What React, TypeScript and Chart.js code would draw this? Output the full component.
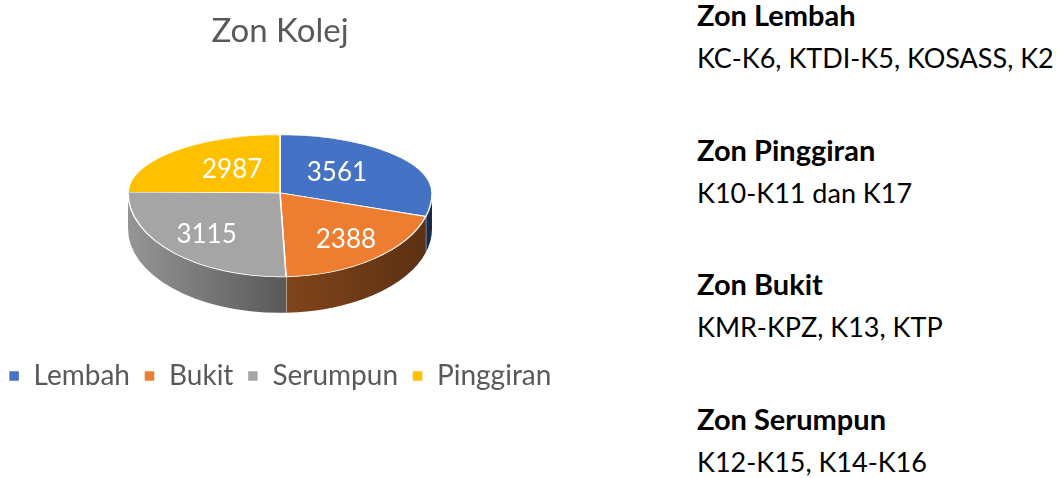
import React, { useEffect, useRef } from 'react';
import { Chart, registerables } from 'chart.js';

Chart.register(...registerables);

// ---- data ----
const chartTitle = 'Zon Kolej';
const zones = ['Lembah', 'Bukit', 'Serumpun', 'Pinggiran'];
const students = [3561, 2388, 3115, 2987];
const zoneColors = ['#4472C4', '#ED7D31', '#A5A5A5', '#FFC000'];
const noteHeadings = ['Zon Lembah', 'Zon Pinggiran', 'Zon Bukit', 'Zon Serumpun'];
const noteBodies = ['KC-K6, KTDI-K5, KOSASS, K2', 'K10-K11 dan K17', 'KMR-KPZ, K13, KTP', 'K12-K15, K14-K16'];

const FONT = 'Lato, "Open Sans", sans-serif';
// perspective: back half of the disc is flatter than the front half
const TILT_BACK = 58 / 152;
const TILT_FRONT = 84 / 152;
const DEPTH = 36;
const LABEL_POS = 0.57;
const PERSP = 0.3;

function shade(hex: string, f: number) {
  const n = parseInt(hex.slice(1), 16);
  const r = Math.round(((n >> 16) & 255) * f);
  const g = Math.round(((n >> 8) & 255) * f);
  const b = Math.round((n & 255) * f);
  return `rgb(${r},${g},${b})`;
}

function faceCenter(arc: any) {
  const R = arc.outerRadius;
  return arc.y + (R * TILT_BACK - R * TILT_FRONT) / 2;
}

const pie3d = {
  id: 'pie3d',
  beforeDatasetsDraw(chart: any) {
    const arcs = chart.getDatasetMeta(0).data;
    if (!arcs.length) return;
    const ctx = chart.ctx;
    const { x: cx, y: cy, outerRadius: R } = arcs[0];
    const cyS = faceCenter(arcs[0]);
    const rF = R * TILT_FRONT;
    // side walls (front half only)
    arcs.forEach((arc: any, i: number) => {
      const a = Math.max(arc.startAngle, 0);
      const b = Math.min(arc.endAngle, Math.PI);
      if (b <= a) return;
      const base = zoneColors[i];
      const grad = ctx.createLinearGradient(cx - R, 0, cx + R, 0);
      grad.addColorStop(0, shade(base, 0.9));
      grad.addColorStop(0.5, shade(base, 0.55));
      grad.addColorStop(1, shade(base, 0.38));
      ctx.beginPath();
      ctx.ellipse(cx, cyS, R, rF, 0, a, b);
      ctx.ellipse(cx, cyS + DEPTH, R, rF, 0, b, a, true);
      ctx.closePath();
      ctx.fillStyle = grad;
      ctx.fill();
      if (b < Math.PI) {
        const ex = cx + Math.cos(b) * R;
        const ey = cyS + Math.sin(b) * rF;
        ctx.strokeStyle = 'rgba(255,255,255,0.8)';
        ctx.lineWidth = 1;
        ctx.beginPath();
        ctx.moveTo(ex, ey);
        ctx.lineTo(ex, ey + DEPTH);
        ctx.stroke();
      }
    });
    // back half of the top face (drawn by Chart.js in this transform)
    ctx.save();
    ctx.beginPath();
    ctx.rect(0, 0, chart.width, cyS + 0.5);
    ctx.clip();
    ctx.translate(0, cyS);
    ctx.scale(1, TILT_BACK);
    ctx.translate(0, -cy);
  },
  afterDatasetsDraw(chart: any) {
    const ctx = chart.ctx;
    ctx.restore();
    const meta = chart.getDatasetMeta(0);
    const arcs = meta.data;
    if (!arcs.length) return;
    const { y: cy } = arcs[0];
    const cyS = faceCenter(arcs[0]);
    // front half of the top face
    ctx.save();
    ctx.beginPath();
    ctx.rect(0, cyS - 0.5, chart.width, chart.height);
    ctx.clip();
    ctx.translate(0, cyS);
    ctx.scale(1, TILT_FRONT);
    ctx.translate(0, -cy);
    meta.controller.draw();
    ctx.restore();
    // value labels
    const values = chart.data.datasets[0].data;
    ctx.save();
    ctx.fillStyle = '#ffffff';
    ctx.font = `26px ${FONT}`;
    ctx.textAlign = 'center';
    ctx.textBaseline = 'middle';
    arcs.forEach((arc: any, i: number) => {
      const mid = (arc.startAngle + arc.endAngle) / 2;
      const R = arc.outerRadius;
      const s = Math.sin(mid);
      const fx = LABEL_POS * (1 + PERSP * s);
      const fy = LABEL_POS * (1 + PERSP * Math.max(s, 0));
      const x = arc.x + Math.cos(mid) * R * fx;
      const y = cyS + s * R * (s < 0 ? TILT_BACK : TILT_FRONT) * fy;
      ctx.fillText(String(values[i]), x, y);
    });
    ctx.restore();
  },
};

function PieChart() {
  const ref = useRef<HTMLCanvasElement>(null);
  useEffect(() => {
    if (!ref.current) return;
    const chart = new Chart(ref.current, {
      type: 'pie',
      data: {
        labels: zones,
        datasets: [
          {
            data: students,
            backgroundColor: zoneColors,
            borderColor: '#ffffff',
            borderWidth: 1.5,
            radius: 152,
            clip: false,
          } as any,
        ],
      },
      options: {
        animation: false,
        responsive: false,
        layout: { padding: { top: 0, bottom: 78, left: 0, right: 0 } },
        plugins: {
          title: {
            display: true,
            text: chartTitle,
            color: '#595959',
            font: { family: FONT, size: 33, weight: 'normal' },
            padding: { top: 12, bottom: 12 },
          },
          legend: {
            position: 'bottom',
            labels: {
              color: '#595959',
              font: { family: FONT, size: 28 },
              boxWidth: 11,
              boxHeight: 11,
              padding: 14,
            },
          },
          tooltip: { enabled: false },
        },
      },
      plugins: [pie3d],
    });
    return () => chart.destroy();
  }, []);
  return <canvas ref={ref} width={620} height={478} style={{ position: 'absolute', left: -30, top: 0 }} />;
}

export default function App() {
  return (
    <div style={{ position: 'absolute', left: 0, top: 0, width: 1057, height: 478, background: '#fff', overflow: 'hidden' }}>
      <PieChart />
      {noteHeadings.map((h, i) => {
        const c = 15 + 134.7 * i;
        return (
          <React.Fragment key={h}>
            <div style={{ position: 'absolute', left: 697, top: c - 17, height: 34, lineHeight: '34px', fontFamily: FONT, fontWeight: 'bold', fontSize: 29, color: '#000', whiteSpace: 'nowrap' }}>{h}</div>
            <div style={{ position: 'absolute', left: 697, top: c + 43 - 17, height: 34, lineHeight: '34px', fontFamily: FONT, fontSize: 27, color: '#000', whiteSpace: 'nowrap' }}>{noteBodies[i]}</div>
          </React.Fragment>
        );
      })}
    </div>
  );
}
